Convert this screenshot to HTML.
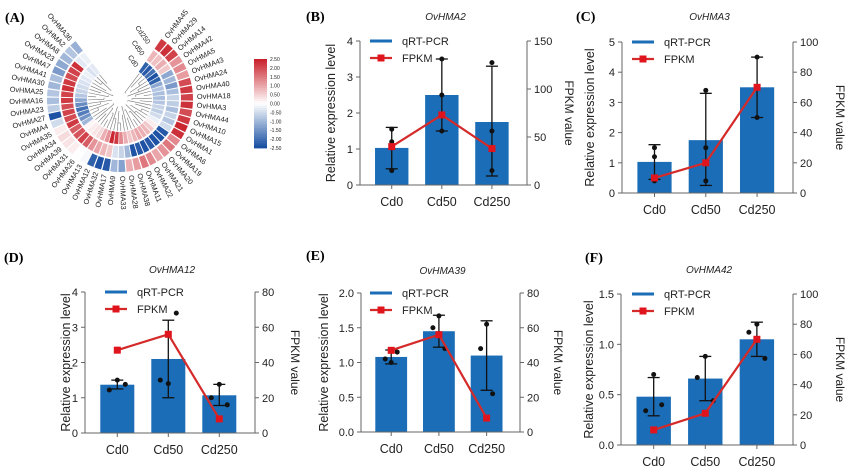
<!DOCTYPE html>
<html><head><meta charset="utf-8">
<style>
html,body{margin:0;padding:0;background:#fff;}
svg{display:block;font-family:"Liberation Sans",Arial,sans-serif;}
</style></head>
<body>
<svg id="fig" width="859" height="474" viewBox="0 0 859 474" xmlns="http://www.w3.org/2000/svg">
<rect width="859" height="474" fill="#fff"/>
<g id="panelA"></g>
<g id="charts"></g>
</svg>
<script>
// ---------- Panel A data ----------
const geneLabels = ["OvHMA45","OvHMA29","OvHMA14","OvHMA42","OvHMA5","OvHMA43","OvHMA24","OvHMA40","OvHMA18","OvHMA3","OvHMA44","OvHMA10","OvHMA15","OvHMA1","OvHMA6","OvHMA19","OvHMA20","OvHMA21","OvHMA22","OvHMA11","OvHMA38","OvHMA28","OvHMA33","OvHMA9","OvHMA17","OvHMA32","OvHMA12","OvHMA13","OvHMA26","OvHMA31","OvHMA39","OvHMA34","OvHMA35","OvHMA4","OvHMA27","OvHMA23","OvHMA16","OvHMA25","OvHMA30","OvHMA41","OvHMA7","OvHMA23","OvHMA8","OvHMA2","OvHMA36"];
const cd0Vals  = [-2.2,-2.3,-2.0,-2.4,-2.2,-1.2,-0.8,-0.9,-0.9,-0.8,-0.6,-0.7,-0.5,-0.2,0.2,0.6,0.8,0.9,1.0,0.8,0.6,0.9,1.3,2.2,2.4,1.2,0.9,0.4,0.3,0.2,0.1,-1.0,-1.5,-1.8,-2.0,-1.6,-1.2,-0.8,-0.6,-0.5,-0.4,-0.3,-0.2,-0.4,-0.3];
const cd50Vals = [0.8,0.7,0.9,0.6,-1.2,-1.0,-1.4,-0.9,-0.6,-0.7,-0.9,-0.6,-0.8,-0.5,-2.3,-2.4,-2.4,-2.3,-2.4,-2.3,-2.4,-1.0,-0.6,-0.4,0.6,0.8,1.0,1.2,1.8,2.1,1.9,1.8,2.2,2.0,2.1,2.0,2.2,2.1,2.3,2.2,2.0,2.1,2.3,-0.3,-0.2];
const cd250Vals= [2.2,2.3,2.1,1.2,1.3,1.1,2.0,2.2,2.1,2.3,2.0,2.2,2.4,2.3,1.3,1.5,1.2,1.0,1.3,1.5,1.1,0.9,-1.3,-1.0,-2.3,-2.4,-2.2,-0.1,0.0,0.2,0.3,0.4,0.2,-0.5,-2.4,-0.7,-0.9,-0.8,-1.0,-0.9,-1.4,-1.2,-1.0,-0.8,-1.1];
const scaleTicks = ["2.50","2.00","1.50","1.00","0.50","0.00","-0.50","-1.00","-1.50","-2.00","-2.50"];

// ---------- Panel B-F data ----------
const categories = ["Cd0","Cd50","Cd250"];
const titlesArr = ["OvHMA2","OvHMA3","OvHMA12","OvHMA39","OvHMA42"];
const lettersArr = ["(B)","(C)","(D)","(E)","(F)"];
const barB = [1.03,2.5,1.75], errLoB=[0.45,1.5,0.25], errHiB=[1.6,3.5,3.3], dotsB=[[1.55,1.2,0.4],[3.5,2.5,1.5],[3.4,1.5,0.4]], fpkmB=[40,73,38];
const barC = [1.03,1.75,3.5], errLoC=[0.45,0.25,2.5], errHiC=[1.6,3.3,4.5], dotsC=[[1.5,1.2,0.4],[3.4,1.5,0.4],[4.5,3.5,2.5]], fpkmC=[10,20,70];
const barD = [1.37,2.1,1.07], errLoD=[1.25,1.0,0.78], errHiD=[1.5,3.2,1.38], dotsD=[[1.5,1.22,1.38],[1.4,1.5,3.4],[1.38,1.0,0.8]], fpkmD=[47,56,8];
const barE = [1.08,1.45,1.1], errLoE=[0.98,1.22,0.6], errHiE=[1.18,1.68,1.6], dotsE=[[1.0,1.05,1.15],[1.67,1.5,1.2],[1.55,1.2,0.55]], fpkmE=[47,56,8];
const barF = [0.48,0.66,1.05], errLoF=[0.29,0.44,0.88], errHiF=[0.67,0.88,1.22], dotsF=[[0.7,0.34,0.4],[0.88,0.67,0.44],[1.2,1.12,0.86]], fpkmF=[10,21,70];
const leftTicksB=[0,1,2,3,4], rightTicksB=[0,50,100,150];
const leftTicksC=[0,1,2,3,4,5], rightTicksC=[0,20,40,60,80,100];
const leftTicksD=[0,1,2,3,4], rightTicksD=[0,20,40,60,80];
const leftTicksE=[0,0.5,1.0,1.5,2.0], rightTicksE=[0,20,40,60,80];
const leftTicksF=[0,0.5,1.0,1.5], rightTicksF=[0,20,40,60,80,100];

const NS="http://www.w3.org/2000/svg";
function mk(tag,attrs,parent,text){const e=document.createElementNS(NS,tag);for(const k in attrs)e.setAttribute(k,attrs[k]);if(text!==undefined)e.textContent=text;if(parent)parent.appendChild(e);return e;}

// ---------- Panel A ----------
(function(){
  const g=document.getElementById('panelA');
  const t=mk('text',{x:5,y:22,'font-family':'Liberation Serif,serif','font-weight':'bold','font-size':14},g,'(A)');
  
  
  const cx=120,cy=99;
  const a0=56,a1=-233;
  const n=geneLabels.length, step=(a0-a1)/n;
  function col(v){v=Math.max(-2.5,Math.min(2.5,v));const f=Math.abs(v)/2.5;
    if(v>=0)return `rgb(${Math.round(255-(255-200)*f)},${Math.round(255-(255-30)*f)},${Math.round(255-(255-40)*f)})`;
    return `rgb(${Math.round(255-(255-20)*f)},${Math.round(255-(255-75)*f)},${Math.round(255-(255-160)*f)})`;}
  function pt(r,a){const rad=a*Math.PI/180;return [cx+r*Math.cos(rad),cy-r*Math.sin(rad)];}
  function arc(r0,r1,aS,aE){const p1=pt(r1,aS),p2=pt(r1,aE),p3=pt(r0,aE),p4=pt(r0,aS);
    return `M${p1[0]},${p1[1]} A${r1},${r1} 0 0 1 ${p2[0]},${p2[1]} L${p3[0]},${p3[1]} A${r0},${r0} 0 0 0 ${p4[0]},${p4[1]}Z`;}
  const rings=[[cd0Vals,33,45],[cd50Vals,47,59],[cd250Vals,61,73]];
  const dg=mk('g',{stroke:'#777','stroke-width':0.6,fill:'none'},g);
  
  
  for(let i=0;i<n;i++){
    const a=a0-step*(i+0.5);
    rings.forEach(([vals,r0,r1],k)=>{
      const p=mk('path',{d:arc(r0,r1,a+step/2-0.5,a-step/2+0.5),fill:col(vals[i])},g);
      
      
    });
    const depth=8+((i*7)%5)*4;
    const q1=pt(depth,a),q2=pt(32,a);
    mk('line',{x1:q1[0],y1:q1[1],x2:q2[0],y2:q2[1]},dg);
    if(i%2===0&&i<n-1){const b1=pt(depth,a),b2=pt(depth,a-step);mk('line',{x1:b1[0],y1:b1[1],x2:b2[0],y2:b2[1]},dg);}
    const lp=pt(77,a);
    let rot=-a, anchor='start';
    if(a<-90){rot=-a-180;anchor='end';}
    const lt=mk('text',{x:lp[0],y:lp[1],'font-size':7.3,fill:'#222','text-anchor':anchor,'dominant-baseline':'middle',transform:`rotate(${rot},${lp[0]},${lp[1]})`},g,geneLabels[i]);
    
    
  }
  ["Cd0","Cd50","Cd250"].forEach((s,k)=>{
    const r=[39,53,67][k];const p=pt(r,a0+14);
    const tt=mk('text',{x:p[0]-2,y:p[1],'font-size':7,fill:'#222','text-anchor':'middle',transform:`rotate(55,${p[0]-2},${p[1]})`},g,s);
    
    
  });
  const cb=mk('g',{},g);
  
  
  const y0=59,y1=148,hh=(y1-y0)/40;
  for(let j=0;j<40;j++){const v=2.5-5*(j+0.5)/40;mk('rect',{x:254,y:y0+j*hh,width:13,height:hh+0.4,fill:col(v)},cb);}
  scaleTicks.forEach((s,j)=>{mk('text',{x:270,y:y0+j*(y1-y0)/10+2,'font-size':5,fill:'#222'},cb,s);});
})();

// ---------- Bar + line charts ----------
function drawChart(cfg){
  const root=document.getElementById('charts');
  const g=mk('g',{},root);
  
  
  const {x0,x1,yT,yB,lMax,rMax}=cfg;
  const yL=v=>yB-(v/lMax)*(yB-yT);
  const yR=v=>yB-(v/rMax)*(yB-yT);
  const xC=i=>x0+(x1-x0)*(0.19+0.3*i);
  const bw=(x1-x0)*0.2;
  const ax='#666';
  const lt=mk('text',{x:cfg.lx,y:cfg.ly,'font-family':'Liberation Serif,serif','font-weight':'bold','font-size':14},g,cfg.letter);
  
  
  const tt=mk('text',{x:(x0+x1)/2+2,y:cfg.ty,'font-size':10,'font-style':'italic','text-anchor':'middle',fill:'#222'},g,cfg.title);
  
  
  cfg.bars.forEach((v,i)=>{
    const r=mk('rect',{x:xC(i)-bw/2,y:yL(v),width:bw,height:yB-yL(v),fill:'#1a6db6'},g);
    
    
  });
  mk('line',{x1:x0,y1:yT,x2:x0,y2:yB,stroke:ax,'stroke-width':1},g);
  mk('line',{x1:x1,y1:yT,x2:x1,y2:yB,stroke:ax,'stroke-width':1},g);
  mk('line',{x1:x0,y1:yB,x2:x1,y2:yB,stroke:ax,'stroke-width':1},g);
  cfg.lt.forEach(v=>{const y=yL(v);mk('line',{x1:x0-4,y1:y,x2:x0,y2:y,stroke:ax},g);
    const t=mk('text',{x:x0-7,y:y+4,'font-size':11,'text-anchor':'end',fill:'#222'},g,cfg.lfmt?v.toFixed(1):String(v));
    
    });
  cfg.rt.forEach(v=>{const y=yR(v);mk('line',{x1:x1,y1:y,x2:x1+4,y2:y,stroke:ax},g);
    const t=mk('text',{x:x1+7,y:y+4,'font-size':11,fill:'#222'},g,String(v));
    
    });
  categories.forEach((c,i)=>{mk('line',{x1:xC(i),y1:yB,x2:xC(i),y2:yB+4,stroke:ax},g);
    const t=mk('text',{x:xC(i),y:yB+21,'font-size':12.5,'text-anchor':'middle',fill:'#222'},g,c);
    
    });
  const ym=(yT+yB)/2;
  const yt=mk('text',{x:cfg.ltx,y:ym,'font-size':12.5,'text-anchor':'middle',fill:'#222',transform:`rotate(-90,${cfg.ltx},${ym})`},g,'Relative expression level');
  
  
  const rt=mk('text',{x:cfg.rtx,y:ym,'font-size':12,'text-anchor':'middle',fill:'#222',transform:`rotate(90,${cfg.rtx},${ym})`},g,'FPKM value');
  
  
  cfg.bars.forEach((v,i)=>{
    const x=xC(i);
    const eb=mk('g',{stroke:'#111','stroke-width':1.3},g);
    
    
    mk('line',{x1:x,y1:yL(cfg.lo[i]),x2:x,y2:yL(cfg.hi[i])},eb);
    mk('line',{x1:x-6,y1:yL(cfg.lo[i]),x2:x+6,y2:yL(cfg.lo[i])},eb);
    mk('line',{x1:x-6,y1:yL(cfg.hi[i]),x2:x+6,y2:yL(cfg.hi[i])},eb);
    cfg.dots[i].forEach((d,k)=>{
      const c=mk('circle',{cx:x+[0,-3,3][k]*(cfg.jit||0)/3,cy:yL(d),r:2.5,fill:'#111'},g);
      
      
    });
  });
  const pts=cfg.fpkm.map((v,i)=>`${xC(i)},${yR(v)}`).join(' ');
  const pl=mk('polyline',{points:pts,fill:'none',stroke:'#d42a2a','stroke-width':2.2},g);
  
  
  cfg.fpkm.forEach((v,i)=>{
    const s=mk('rect',{x:xC(i)-3.5,y:yR(v)-3.5,width:7,height:7,fill:'#e0141c'},g);
    
    
  });
  const lg=mk('g',{},g);
  
  
  const lx=cfg.legx, ly=yT;
  mk('line',{x1:lx,y1:ly,x2:lx+22,y2:ly,stroke:'#1a6db6','stroke-width':3},lg);
  mk('text',{x:lx+32,y:ly+4,'font-size':11,fill:'#222'},lg,'qRT-PCR');
  mk('line',{x1:lx,y1:ly+17,x2:lx+22,y2:ly+17,stroke:'#d42a2a','stroke-width':2.2},lg);
  mk('rect',{x:lx+7.5,y:ly+13.5,width:7,height:7,fill:'#e0141c'},lg);
  mk('text',{x:lx+32,y:ly+21,'font-size':11,fill:'#222'},lg,'FPKM');
}
drawChart({letter:lettersArr[0],title:titlesArr[0],lx:306,ly:21,ty:20,x0:360,x1:527,yT:41,yB:185,lMax:4,rMax:150,lt:leftTicksB,rt:rightTicksB,bars:barB,lo:errLoB,hi:errHiB,dots:dotsB,fpkm:fpkmB,ltx:335,rtx:565,legx:370});
drawChart({letter:lettersArr[1],title:titlesArr[1],lx:576,ly:21,ty:20,x0:622,x1:793,yT:42,yB:193,lMax:5,rMax:100,lt:leftTicksC,rt:rightTicksC,bars:barC,lo:errLoC,hi:errHiC,dots:dotsC,fpkm:fpkmC,ltx:594,rtx:836,legx:632});
drawChart({letter:lettersArr[2],title:titlesArr[2],lx:4,ly:262,ty:273,x0:85,x1:255,yT:292,yB:433,lMax:4,rMax:80,lt:leftTicksD,rt:rightTicksD,bars:barD,lo:errLoD,hi:errHiD,dots:dotsD,fpkm:fpkmD,ltx:70,rtx:291,legx:105,jit:8});
drawChart({letter:lettersArr[3],title:titlesArr[3],lx:306,ly:260,ty:274,x0:361,x1:520,yT:293,yB:432,lMax:2,rMax:80,lt:leftTicksE,rt:rightTicksE,bars:barE,lo:errLoE,hi:errHiE,dots:dotsE,fpkm:fpkmE,ltx:328,rtx:554,legx:370,lfmt:true,jit:6});
drawChart({letter:lettersArr[4],title:titlesArr[4],lx:585,ly:262,ty:273,x0:621,x1:793,yT:294,yB:445,lMax:1.5,rMax:100,lt:leftTicksF,rt:rightTicksF,bars:barF,lo:errLoF,hi:errHiF,dots:dotsF,fpkm:fpkmF,ltx:593,rtx:836,legx:632,lfmt:true,jit:8});
</script>
</body></html>
